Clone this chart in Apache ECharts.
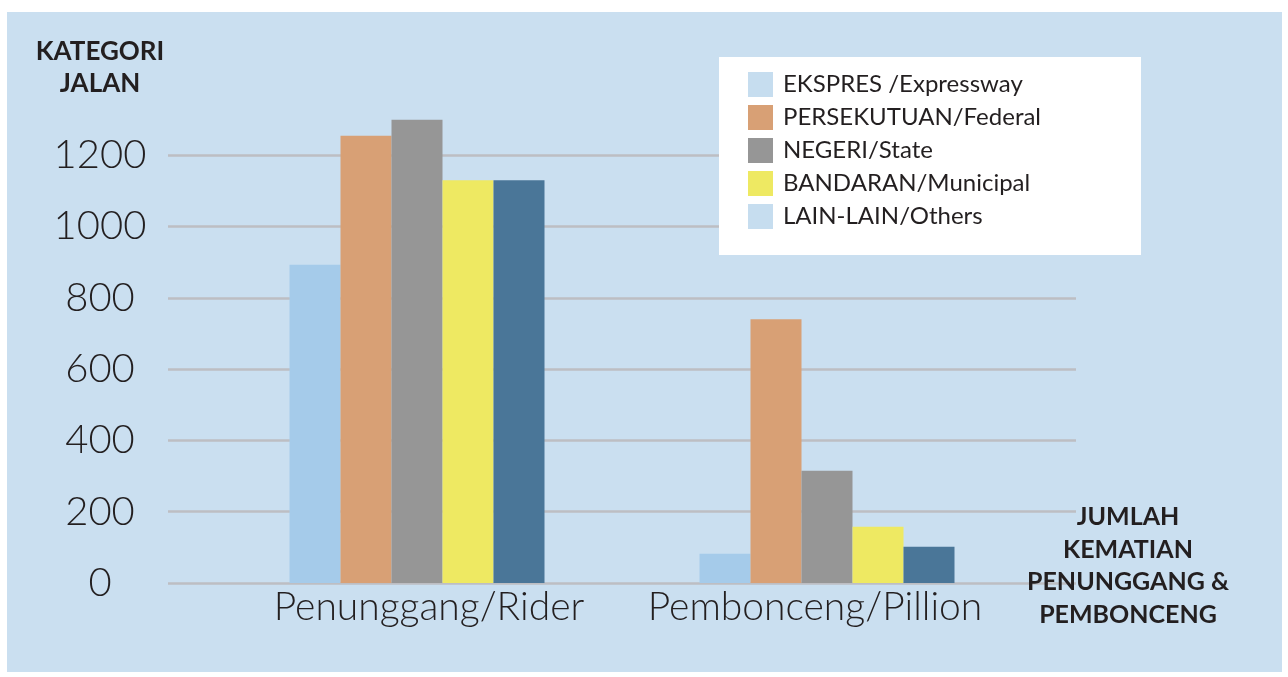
<!DOCTYPE html>
<html>
<head>
<meta charset="utf-8">
<script src="https://cdn.jsdelivr.net/npm/echarts@6/dist/echarts.min.js"></script>
<style>
  html, body { margin: 0; padding: 0; background: #ffffff; }
  #panel { position: absolute; left: 7px; top: 12px; width: 1275px; height: 660px; background: #cadff0; }
  #chart { position: absolute; left: 0; top: 0; width: 1288px; height: 677px; }
</style>
</head>
<body>
<div id="panel"></div>
<div id="chart"></div>
<script>
// Road-category fatalities of motorcycle riders and pillion passengers
const categories = ['Penunggang/Rider', 'Pembonceng/Pillion'];
const seriesNames = ['EKSPRES /Expressway', 'PERSEKUTUAN/Federal', 'NEGERI/State', 'BANDARAN/Municipal', 'LAIN-LAIN/Others'];
const expressway = [893, 82];
const federal = [1255, 740];
const stateRoads = [1300, 315];
const municipal = [1130, 158];
const others = [1130, 102];
const yTicks = [0, 200, 400, 600, 800, 1000, 1200];

const barColors = ['#a5cbea', '#d8a075', '#969696', '#eee962', '#4a7698'];
const legendColors = ['#c6ddef', '#d8a075', '#969696', '#eee962', '#c6ddef'];
const values = [expressway, federal, stateRoads, municipal, others];
// small horizontal nudges of the two category captions
const labelPads = [[0, 0, 0, 24], [0, 24, 0, 0]];

const FONT = 'Lato, "Noto Sans", sans-serif';
const INK = '#231f20';

const chart = echarts.init(document.getElementById('chart'), null, { renderer: 'canvas' });

chart.setOption({
  backgroundColor: 'transparent',
  animation: false,
  grid: [
    { left: 168, right: 212, top: 84, bottom: 94 },
    { left: 212, right: 256, top: 84, bottom: 94 }
  ],
  xAxis: [
    { gridIndex: 0, type: 'value', show: false },
    {
      gridIndex: 1, type: 'category',
      data: categories.map((c, i) => ({ value: c, textStyle: { padding: labelPads[i] } })),
      axisLine: { show: false }, axisTick: { show: false },
      axisLabel: { interval: 0, fontFamily: FONT, fontSize: 39, fontWeight: 300, color: INK, margin: 5 }
    }
  ],
  yAxis: [
    {
      gridIndex: 0, type: 'value', min: yTicks[0], max: 1400, interval: 200,
      axisLine: { show: false }, axisTick: { show: false },
      splitLine: { show: true, showMaxLine: false, lineStyle: { color: '#bdbec3', width: 2.5 } },
      axisLabel: {
        showMaxLabel: false, formatter: v => String(v),
        fontFamily: FONT, fontSize: 40, fontWeight: 300, color: INK,
        align: 'center', margin: 68, padding: [6, 0, 0, 0]
      }
    },
    { gridIndex: 1, type: 'value', min: yTicks[0], max: 1400, show: false }
  ],
  legend: {
    orient: 'vertical', left: 748, top: 72, itemWidth: 25, itemHeight: 25, itemGap: 8,
    selectedMode: false, padding: 0,
    data: seriesNames.map((n, i) => ({ name: n, icon: 'rect', itemStyle: { color: legendColors[i] } })),
    textStyle: { fontFamily: FONT, fontSize: 24, color: INK, padding: [0, 0, 0, 5] }
  },
  graphic: [
    { type: 'rect', z: 3, shape: { x: 719, y: 57, width: 422, height: 198 }, style: { fill: '#ffffff' } },
    {
      type: 'text', z: 5, x: 100, y: 68,
      style: { text: 'KATEGORI\nJALAN', align: 'center', verticalAlign: 'middle', fontFamily: FONT,
               fontSize: 26, fontWeight: 'bold', lineHeight: 32, fill: INK }
    },
    {
      type: 'text', z: 5, x: 1128, y: 566,
      style: { text: 'JUMLAH\nKEMATIAN\nPENUNGGANG &\nPEMBONCENG', align: 'center', verticalAlign: 'middle',
               fontFamily: FONT, fontSize: 25, fontWeight: 'bold', lineHeight: 32.5, fill: INK }
    }
  ],
  series: seriesNames.map((n, i) => ({
    name: n, type: 'bar', xAxisIndex: 1, yAxisIndex: 1,
    barWidth: 51, barGap: '0%',
    itemStyle: { color: barColors[i] },
    data: values[i]
  }))
});
</script>
</body>
</html>
